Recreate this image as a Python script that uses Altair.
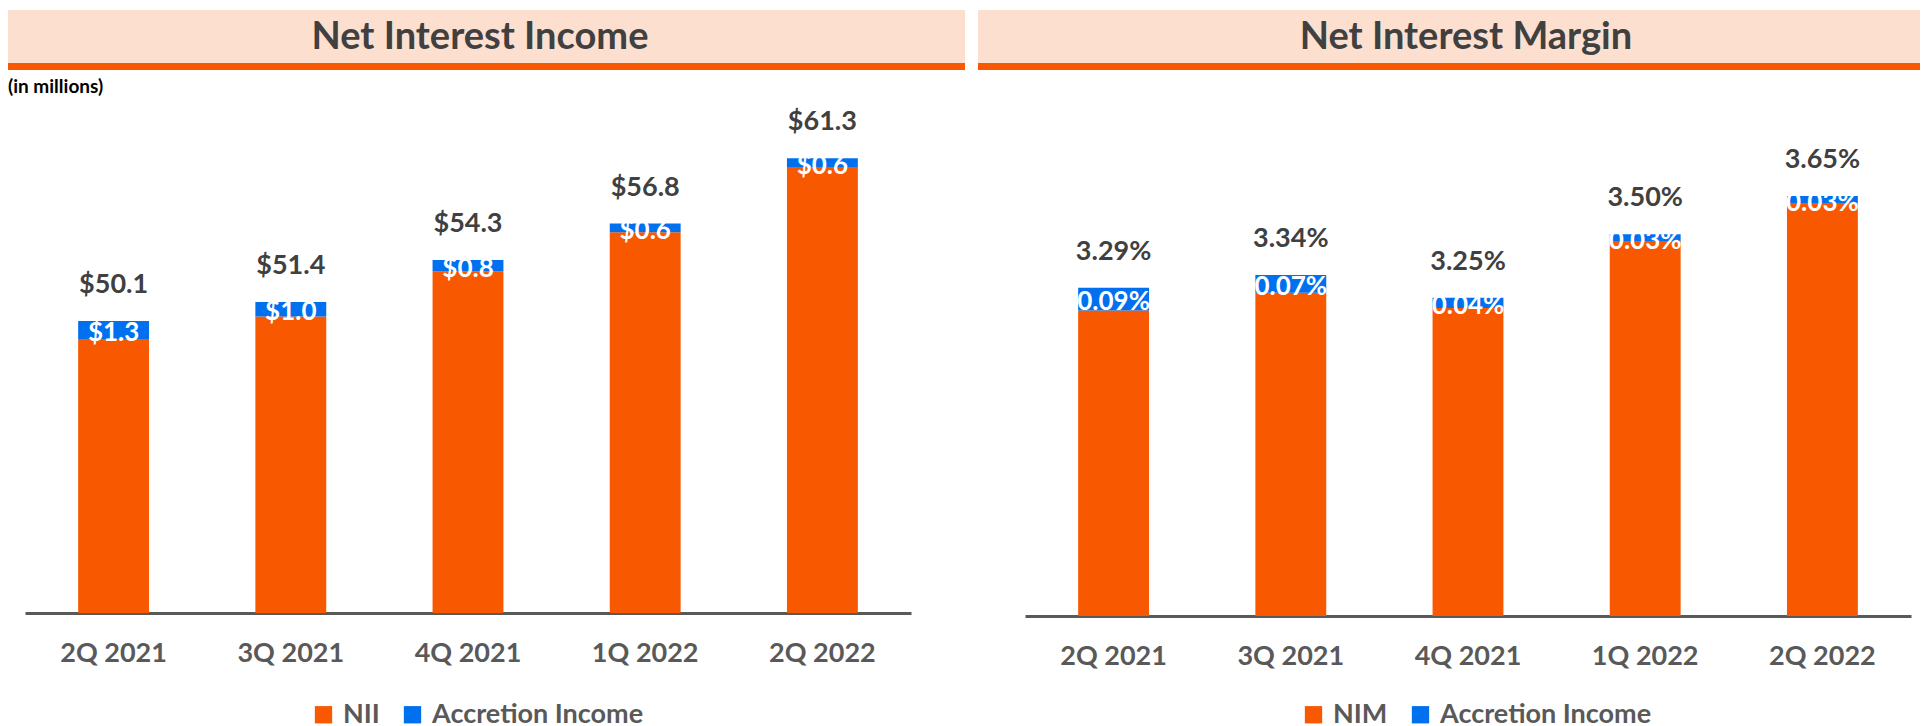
import altair as alt
import pandas as pd

quarters = ["2Q 2021", "3Q 2021", "4Q 2021", "1Q 2022", "2Q 2022"]
nii_totals = [50.1, 51.4, 54.3, 56.8, 61.3]
nii_accretion = [1.3, 1.0, 0.8, 0.6, 0.6]
nim_totals = [3.29, 3.34, 3.25, 3.50, 3.65]
nim_accretion = [0.09, 0.07, 0.04, 0.03, 0.03]

titles = ["Net Interest Income", "Net Interest Margin"]
series_left = ["NII", "Accretion Income"]
series_right = ["NIM", "Accretion Income"]
unit_note = "(in millions)"

ORANGE = "#F85800"
BLUE = "#0070EF"
PEACH = "#FDDFD0"
DARK = "#404040"
GRAY = "#595959"
FONT = "Lato"


def panel(title, series, totals, accr, ydomain, height, fmt, title_x,
          band_x, band_x2, legend_x, note=None):
    wide = pd.DataFrame({"q": quarters, "total": totals, "acc": accr})
    wide["core"] = wide["total"] - wide["acc"]
    wide["mid"] = wide["core"] + wide["acc"] / 2
    wide["total_label"] = [fmt(v) for v in wide["total"]]
    wide["acc_label"] = [fmt(v) for v in wide["acc"]]

    rows = []
    for _, r in wide.iterrows():
        rows.append({"q": r["q"], "series": series[0], "value": r["core"], "ord": 0})
        rows.append({"q": r["q"], "series": series[1], "value": r["acc"], "ord": 1})
    long = pd.DataFrame(rows)

    xenc = alt.X(
        "q:N", sort=quarters,
        scale=alt.Scale(paddingInner=0.6, paddingOuter=0.3),
        axis=alt.Axis(title=None, labelAngle=0, ticks=False, grid=False,
                      domainColor=GRAY, domainWidth=3, labelFont=FONT,
                      labelFontSize=27, labelFontWeight="bold",
                      labelColor=GRAY, labelPadding=27),
    )
    yscale = alt.Scale(domain=ydomain, zero=False, nice=False)

    bars = alt.Chart(long).mark_bar(clip=True).encode(
        x=xenc,
        y=alt.Y("value:Q", stack="zero", scale=yscale, axis=None),
        color=alt.Color(
            "series:N",
            scale=alt.Scale(domain=series, range=[ORANGE, BLUE]),
            legend=alt.Legend(orient="none", legendX=legend_x, legendY=631,
                              direction="horizontal", title=None,
                              symbolType="square", symbolSize=300,
                              symbolStrokeWidth=0, symbolOpacity=1,
                              labelFont=FONT, labelFontSize=27,
                              labelFontWeight="bold", labelColor=GRAY,
                              labelLimit=0, columnPadding=19,
                              labelOffset=6, padding=0),
        ),
        order=alt.Order("ord:Q"),
    )

    total_text = alt.Chart(wide).mark_text(
        font=FONT, fontSize=27, fontWeight="bold", color=DARK,
        baseline="alphabetic", dy=-28,
    ).encode(
        x=alt.X("q:N", sort=quarters),
        y=alt.Y("total:Q", scale=yscale),
        text="total_label:N",
    )

    acc_text = alt.Chart(wide).mark_text(
        font=FONT, fontSize=26, fontWeight="bold", color="white",
        baseline="middle", dy=3,
    ).encode(
        x=alt.X("q:N", sort=quarters),
        y=alt.Y("mid:Q", scale=yscale),
        text="acc_label:N",
    )

    head = pd.DataFrame({"t": [title]})
    band = alt.Chart(head).mark_rect(color=PEACH).encode(
        x=alt.value(band_x), x2=alt.value(band_x2),
        y=alt.value(-60), y2=alt.value(-7),
    )
    stripe = alt.Chart(head).mark_rect(color=ORANGE).encode(
        x=alt.value(band_x), x2=alt.value(band_x2),
        y=alt.value(-7), y2=alt.value(0),
    )
    ttl = alt.Chart(head).mark_text(
        font=FONT, fontSize=38, fontWeight="bold", color=DARK,
        baseline="middle", align="center", dy=1,
    ).encode(x=alt.value(title_x), y=alt.value(-33), text="t:N")

    layers = [band, stripe, ttl, bars, total_text, acc_text]
    if note is not None:
        nd = pd.DataFrame({"t": [note]})
        layers.append(
            alt.Chart(nd).mark_text(
                font=FONT, fontSize=19, fontWeight="bold", color="black",
                baseline="middle", align="left",
            ).encode(x=alt.value(-17), y=alt.value(17), text="t:N")
        )
    return alt.layer(*layers).properties(width=886, height=height)


left = panel(titles[0], series_left, nii_totals, nii_accretion, [30, 67.37],
             543, lambda v: f"${v:.1f}", 455, -17, 940, 285, note=unit_note)
right = panel(titles[1], series_right, nim_totals, nim_accretion, [2.0, 4.145],
              546, lambda v: f"{v:.2f}%", 441, -47, 895, 275)

chart = alt.hconcat(left, right, spacing=13).resolve_scale(
    color="independent"
).resolve_legend(color="independent").properties(
    padding={"left": 0, "top": 2, "right": 0, "bottom": 0},
    background="white",
).configure_view(stroke=None)

chart.save("out.html", embed_options={"renderer": "svg", "actions": False})
